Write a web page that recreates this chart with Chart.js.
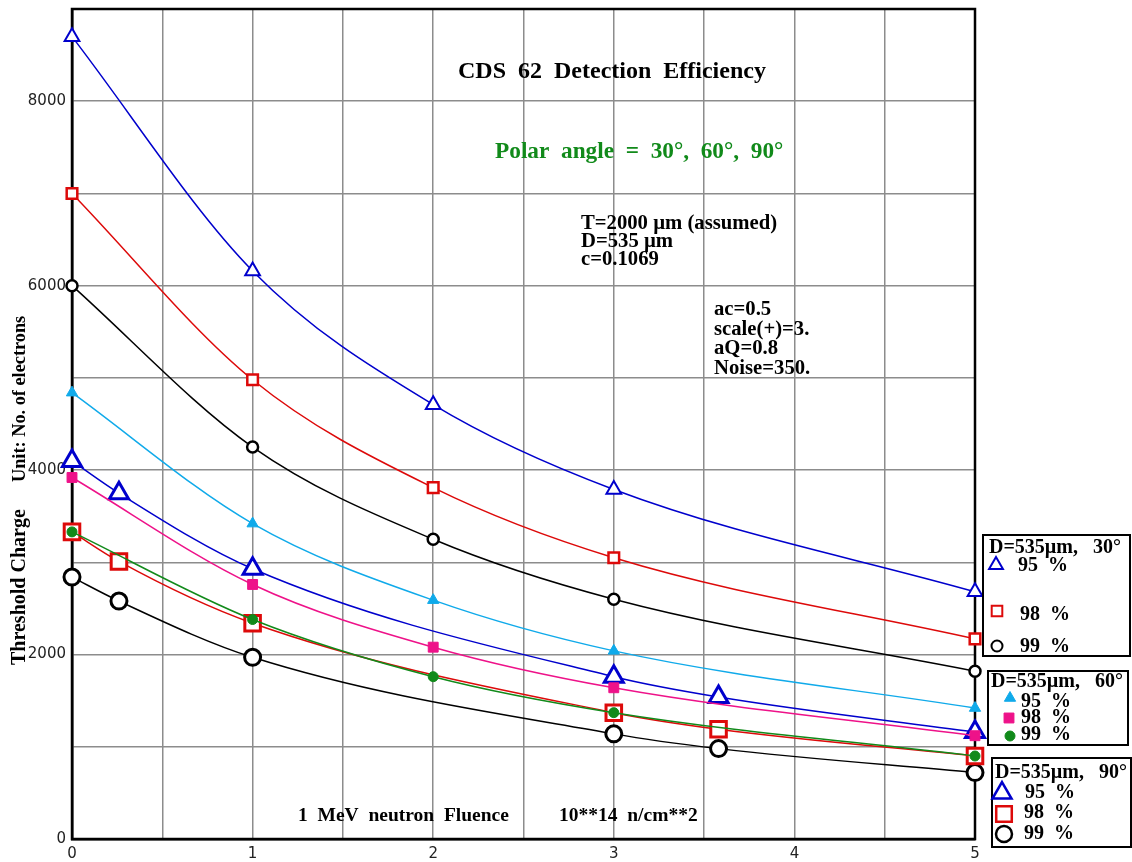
<!DOCTYPE html>
<html>
<head>
<meta charset="utf-8">
<title>CDS 62 Detection Efficiency</title>
<script src="https://cdn.jsdelivr.net/npm/chart.js@4.4.1/dist/chart.umd.min.js"></script>
<style>
  html, body { margin: 0; padding: 0; background: #fff; }
  canvas { display: block; }
</style>
</head>
<body>
<canvas id="effChart" width="1132" height="862"></canvas>
<script>
// Fluence points (10**14 n/cm**2) for each polar angle
const fluence30 = [0, 1, 2, 3, 5];
const fluence60 = [0, 1, 2, 3, 5];
const fluence90 = [0, 0.26, 1, 3, 3.58, 5];

// Threshold charge (electrons), 95 / 98 / 99 % efficiency
const eff95_30 = [8700, 6160, 4710, 3790, 2680];
const eff98_30 = [7000, 4980, 3810, 3050, 2170];
const eff99_30 = [6000, 4250, 3250, 2600, 1820];

const eff95_60 = [4840, 3420, 2590, 2040, 1420];
const eff98_60 = [3920, 2760, 2080, 1640, 1120];
const eff99_60 = [3330, 2380, 1760, 1370, 900];

const eff95_90 = [4100, 3750, 2930, 1760, 1540, 1160];
const eff98_90 = [3330, 3010, 2340, 1370, 1190, 900];
const eff99_90 = [2840, 2580, 1970, 1140, 980, 720];

const yTickLabels = [0, 2000, 4000, 6000, 8000];
const xTickLabels = [0, 1, 2, 3, 4, 5];

const BLUE = '#0000cc';
const RED = '#dd0a0a';
const BLACK = '#000000';
const CYAN = '#10aaea';
const PINK = '#ee1289';
const GREEN = '#118a1a';
const SERIF = '"Liberation Serif", "Times New Roman", serif';

function pts(xs, ys) {
    return xs.map((x, i) => ({ x: x, y: ys[i] }));
}

function series(xs, ys, color, style, radius, pointBorder, hollow) {
    return {
        data: pts(xs, ys),
        borderColor: color,
        borderWidth: 1.5,
        pointStyle: style,
        pointRadius: radius,
        pointBorderWidth: pointBorder,
        pointBorderColor: color,
        pointBackgroundColor: hollow ? '#ffffff' : color,
        fill: false,
        cubicInterpolationMode: 'monotone',
        clip: false
    };
}

const datasets = [
    series(fluence30, eff95_30, BLUE, 'triangle', 8.5, 2, true),
    series(fluence30, eff98_30, RED, 'rect', 7.5, 2.5, true),
    series(fluence30, eff99_30, BLACK, 'circle', 5.5, 2.5, true),
    series(fluence60, eff95_60, CYAN, 'triangle', 6.5, 1, false),
    series(fluence60, eff98_60, PINK, 'rect', 7, 1, false),
    series(fluence60, eff99_60, GREEN, 'circle', 5, 1, false),
    series(fluence90, eff95_90, BLUE, 'triangle', 11, 3, true),
    series(fluence90, eff98_90, RED, 'rect', 11, 3, true),
    series(fluence90, eff99_90, BLACK, 'circle', 8, 3, true)
];

// Legend boxes: header, then [style, color, radius, border, hollow, label, marker x/y, text x/y]
const legendBoxes = [
    {
        box: [983, 535, 147, 121], head: 'D=535\u00b5m,   30\u00b0', headAt: [989, 553],
        items: [
            ['triangle', BLUE, 8, 2, true, '95  %', 996, 565, 1018, 571],
            ['rect', RED, 7.5, 2, true, '98  %', 997, 611, 1020, 620],
            ['circle', BLACK, 5.5, 2, true, '99  %', 997, 646, 1020, 652]
        ]
    },
    {
        box: [988, 671, 140, 74], head: 'D=535\u00b5m,   60\u00b0', headAt: [991, 687],
        items: [
            ['triangle', CYAN, 6.5, 1, false, '95  %', 1010, 698, 1021, 707],
            ['rect', PINK, 7, 1, false, '98  %', 1009, 718, 1021, 723],
            ['circle', GREEN, 5, 1, false, '99  %', 1010, 736, 1021, 740]
        ]
    },
    {
        box: [992, 758, 139, 89], head: 'D=535\u00b5m,   90\u00b0', headAt: [995, 778],
        items: [
            ['triangle', BLUE, 11, 2.5, true, '95  %', 1002, 793, 1025, 798],
            ['rect', RED, 11, 2.5, true, '98  %', 1004, 814, 1024, 818],
            ['circle', BLACK, 8, 2.5, true, '99  %', 1004, 834, 1024, 839]
        ]
    }
];

// Frame, captions, fit parameters and legend boxes
const decorations = {
    id: 'decorations',
    beforeDatasetsDraw(chart) {
        const a = chart.chartArea;
        const ctx = chart.ctx;
        ctx.save();
        ctx.strokeStyle = '#000';
        ctx.lineWidth = 2.5;
        ctx.strokeRect(a.left, a.top, a.right - a.left, a.bottom - a.top);
        ctx.restore();
    },
    afterDraw(chart) {
        const ctx = chart.ctx;
        ctx.save();
        ctx.textAlign = 'left';
        ctx.textBaseline = 'alphabetic';

        ctx.fillStyle = '#000';
        ctx.font = 'bold 24px ' + SERIF;
        ctx.fillText('CDS  62  Detection  Efficiency', 458, 78);

        ctx.fillStyle = GREEN;
        ctx.font = 'bold 23.3px ' + SERIF;
        ctx.fillText('Polar  angle  =  30\u00b0,  60\u00b0,  90\u00b0', 495, 158);

        ctx.fillStyle = '#000';
        ctx.font = 'bold 20.7px ' + SERIF;
        ['T=2000 \u00b5m (assumed)', 'D=535 \u00b5m', 'c=0.1069'].forEach((t, i) => {
            ctx.fillText(t, 581, 229 + i * 18);
        });
        ['ac=0.5', 'scale(+)=3.', 'aQ=0.8', 'Noise=350.'].forEach((t, i) => {
            ctx.fillText(t, 714, 315 + i * 19.6);
        });

        ctx.font = 'bold 19.5px ' + SERIF;
        ctx.fillText('1  MeV  neutron  Fluence', 298, 821);
        ctx.fillText('10**14  n/cm**2', 559, 821);

        // rotated y title
        ctx.font = 'bold 20px ' + SERIF;
        ctx.save();
        ctx.translate(25, 665);
        ctx.rotate(-Math.PI / 2);
        ctx.fillText('Threshold Charge', 0, 0);
        ctx.restore();
        ctx.font = 'bold 18.3px ' + SERIF;
        ctx.save();
        ctx.translate(25, 482);
        ctx.rotate(-Math.PI / 2);
        ctx.fillText('Unit: No. of electrons', 0, 0);
        ctx.restore();

        legendBoxes.forEach(lb => {
            ctx.strokeStyle = '#000';
            ctx.lineWidth = 2;
            ctx.strokeRect(lb.box[0], lb.box[1], lb.box[2], lb.box[3]);
            ctx.fillStyle = '#000';
            ctx.font = 'bold 20px ' + SERIF;
            ctx.fillText(lb.head, lb.headAt[0], lb.headAt[1]);
            lb.items.forEach(it => {
                const [style, color, r, bw, hollow, label, mx, my, tx, ty] = it;
                ctx.save();
                ctx.strokeStyle = color;
                ctx.fillStyle = hollow ? '#fff' : color;
                ctx.lineWidth = bw;
                Chart.helpers.drawPoint(ctx, { pointStyle: style, radius: r, rotation: 0, borderWidth: bw }, mx, my);
                ctx.restore();
                ctx.fillStyle = '#000';
                ctx.fillText(label, tx, ty);
            });
        });
        ctx.restore();
    }
};

new Chart(document.getElementById('effChart').getContext('2d'), {
    type: 'line',
    data: { datasets: datasets },
    plugins: [decorations],
    options: {
        responsive: false,
        animation: false,
        layout: { autoPadding: false, padding: { left: 0, top: 9, right: 157, bottom: 0 } },
        plugins: {
            legend: { display: false },
            tooltip: { enabled: false },
            title: { display: false }
        },
        scales: {
            x: {
                type: 'linear',
                min: 0,
                max: 5,
                afterFit(scale) {
                    scale.height = 23;
                    scale.paddingLeft = 0;
                    scale.paddingRight = 0;
                },
                ticks: {
                    stepSize: 0.5,
                    padding: 6,
                    color: '#222',
                    font: { family: '"DejaVu Sans", sans-serif', size: 15 },
                    callback: v => xTickLabels.includes(v) ? String(v) : ''
                },
                grid: { color: '#8c8c8c', lineWidth: 1.5, drawTicks: false },
                border: { color: '#000', width: 2.5 }
            },
            y: {
                min: 0,
                max: 9000,
                afterFit(scale) {
                    scale.width = 72;
                    scale.paddingTop = 0;
                    scale.paddingBottom = 0;
                },
                ticks: {
                    stepSize: 1000,
                    padding: 6,
                    color: '#222',
                    font: { family: '"DejaVu Sans", sans-serif', size: 15 },
                    callback: v => yTickLabels.includes(v) ? String(v) : ''
                },
                grid: { color: '#8c8c8c', lineWidth: 1.5, drawTicks: false },
                border: { color: '#000', width: 2.5 }
            }
        }
    }
});
</script>
</body>
</html>
